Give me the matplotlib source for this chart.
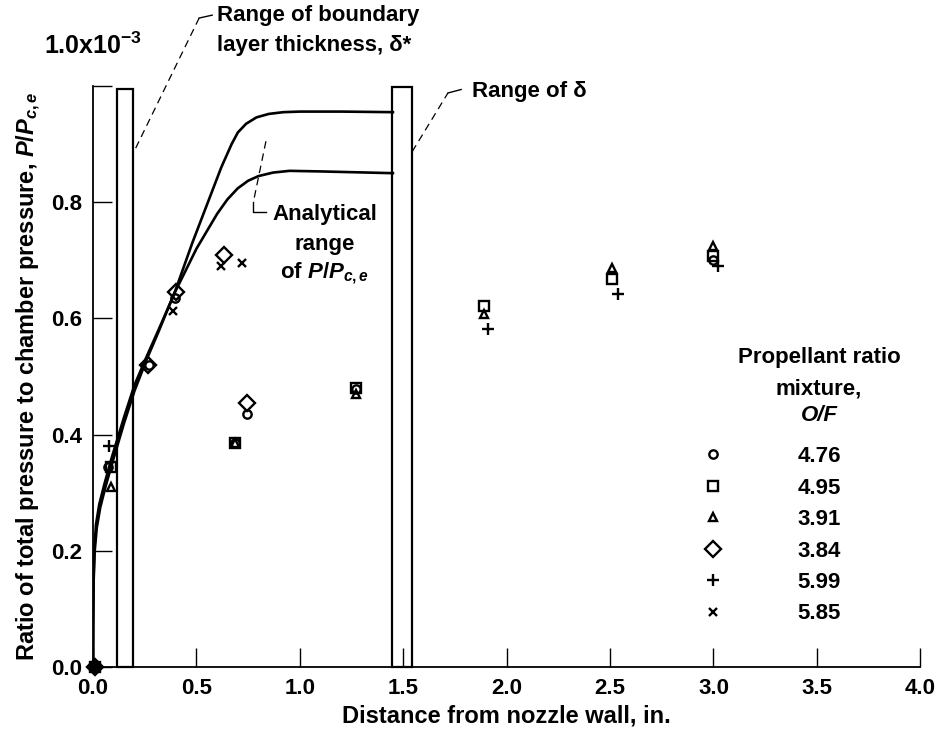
import matplotlib
matplotlib.use("Agg")
import matplotlib.pyplot as plt
from matplotlib.patches import Rectangle

plt.rcParams['font.family'] = ['Liberation Sans', 'DejaVu Sans']
plt.rcParams['font.weight'] = 'bold'
plt.rcParams['axes.labelweight'] = 'bold'
plt.rcParams['mathtext.fontset'] = 'custom'
plt.rcParams['mathtext.rm'] = 'Liberation Sans:bold'
plt.rcParams['mathtext.it'] = 'Liberation Sans:italic:bold'
plt.rcParams['mathtext.bf'] = 'Liberation Sans:bold'

# ---------------- data ----------------
labels = ["4.76", "4.95", "3.91", "3.84", "5.99", "5.85"]

circle_x = [0.01, 0.07, 0.27, 0.395, 0.685, 0.745, 1.27, 3.0]
circle_y = [0.0, 0.345, 0.52, 0.635, 0.385, 0.436, 0.478, 0.70]

square_x = [0.01, 0.085, 0.685, 1.27, 1.89, 2.51, 3.0]
square_y = [0.0, 0.345, 0.385, 0.48, 0.622, 0.667, 0.708]

triangle_x = [0.01, 0.088, 0.685, 1.27, 1.89, 2.51, 3.0]
triangle_y = [0.0, 0.31, 0.385, 0.47, 0.607, 0.686, 0.724]

diamond_x = [0.01, 0.265, 0.40, 0.635, 0.745]
diamond_y = [0.0, 0.52, 0.645, 0.709, 0.455]

plus_x = [0.01, 0.078, 1.91, 2.54, 3.02]
plus_y = [0.0, 0.38, 0.582, 0.642, 0.69]

cross_x = [0.01, 0.385, 0.62, 0.72]
cross_y = [0.0, 0.612, 0.69, 0.695]

upper_x = [0, 0.001, 0.003, 0.008, 0.018, 0.035, 0.06, 0.1, 0.15, 0.2, 0.26, 0.32,
           0.4, 0.48, 0.55, 0.62, 0.67, 0.70, 0.74, 0.79, 0.85, 0.92, 1.0, 1.2, 1.45]
upper_y = [0, 0.08, 0.15, 0.2, 0.24, 0.275, 0.31, 0.36, 0.42, 0.475, 0.53, 0.58,
           0.65, 0.73, 0.795, 0.86, 0.90, 0.92, 0.935, 0.946, 0.952, 0.955, 0.956,
           0.956, 0.955]

lower_x = [0, 0.0008, 0.002, 0.006, 0.014, 0.03, 0.055, 0.09, 0.15, 0.2, 0.26, 0.32,
           0.4, 0.5, 0.6, 0.65, 0.7, 0.75, 0.8, 0.87, 0.95, 1.1, 1.45]
lower_y = [0, 0.08, 0.15, 0.2, 0.245, 0.28, 0.315, 0.36, 0.43, 0.485, 0.535, 0.583,
           0.648, 0.72, 0.78, 0.805, 0.824, 0.837, 0.845, 0.851, 0.854, 0.853, 0.85]

# ranges (x0, x1, top)
dstar_range = (0.118, 0.195, 0.995)
delta_range = (1.446, 1.543, 0.998)

xticks = [0.0, 0.5, 1.0, 1.5, 2.0, 2.5, 3.0, 3.5, 4.0]
xticklabels = ["0.0", "0.5", "1.0", "1.5", "2.0", "2.5", "3.0", "3.5", "4.0"]
yticks = [0.0, 0.2, 0.4, 0.6, 0.8, 1.0]
yticklabels = ["0.0", "0.2", "0.4", "0.6", "0.8", ""]

# ---------------- figure ----------------
FS = 16
fig = plt.figure(figsize=(9.4, 7.34), dpi=100)
ax = fig.add_axes([0.099, 0.0913, 0.880, 0.7915])
ax.set_xlim(0, 4.0)
ax.set_ylim(0, 1.0)

for s in ['top', 'right']:
    ax.spines[s].set_visible(False)
for s in ['left', 'bottom']:
    ax.spines[s].set_linewidth(1.3)

ax.set_xticks(xticks)
ax.set_xticklabels(xticklabels, fontsize=FS)
ax.set_yticks(yticks)
ax.set_yticklabels(yticklabels, fontsize=FS)
ax.tick_params(axis='both', direction='in', length=14, width=1.0)
ax.tick_params(axis='x', pad=8)
ax.tick_params(axis='y', pad=8)

ax.set_xlabel("Distance from nozzle wall, in.", fontsize=FS + 1, labelpad=4)
ax.set_ylabel("Ratio of total pressure to chamber pressure, $P/P_{c,e}$",
              fontsize=FS + 1, labelpad=6)

ax.text(0.0, 1.07, "1.0x10$^{-3}$", fontsize=FS + 2, ha='center', va='center',
        transform=ax.transData, clip_on=False)

# curves
ax.plot(upper_x, upper_y, color='black', lw=1.9, zorder=3)
ax.plot(lower_x, lower_y, color='black', lw=1.9, zorder=3)

# range boxes
for (x0, x1, top) in [dstar_range, delta_range]:
    ax.add_patch(Rectangle((x0, 0), x1 - x0, top, fill=False, ec='black',
                           lw=1.6, zorder=4, clip_on=False))

# data series
mk = dict(color='black', linestyle='none', markerfacecolor='none',
          markeredgewidth=1.7, zorder=5, clip_on=False)
h1, = ax.plot(circle_x, circle_y, marker='o', markersize=6, **mk)
h2, = ax.plot(square_x, square_y, marker='s', markersize=7, **mk)
h3, = ax.plot(triangle_x, triangle_y, marker='^', markersize=6, **mk)
h4, = ax.plot(diamond_x, diamond_y, marker='D', markersize=8, **mk)
h5, = ax.plot(plus_x, plus_y, marker='+', markersize=8, **mk)
h6, = ax.plot(cross_x, cross_y, marker='x', markersize=5.5, **mk)

# annotations
dash = dict(color='black', lw=0.9, linestyle=(0, (6, 4)), clip_on=False)
solid = dict(color='black', lw=1.0, clip_on=False)

ax.plot([0.206, 0.513], [0.893, 1.117], **dash)
ax.plot([0.513, 0.576], [1.117, 1.122], **solid)
ax.text(0.60, 1.122, "Range of boundary", fontsize=FS, ha='left', va='center', clip_on=False)
ax.text(0.60, 1.069, "layer thickness, \u03b4*", fontsize=FS, ha='left', va='center', clip_on=False)

ax.plot([1.543, 1.716], [0.887, 0.988], **dash)
ax.plot([1.716, 1.78], [0.988, 0.994], **solid)
ax.text(1.83, 0.991, "Range of \u03b4", fontsize=FS, ha='left', va='center', clip_on=False)

ax.plot([0.836, 0.775], [0.905, 0.80], **dash)
ax.plot([0.772, 0.772, 0.836], [0.80, 0.784, 0.784], **solid)
ax.text(1.12, 0.779, "Analytical", fontsize=FS, ha='center', va='center')
ax.text(1.12, 0.728, "range", fontsize=FS, ha='center', va='center')
ax.text(1.12, 0.678, "of $P/P_{c,e}$", fontsize=FS, ha='center', va='center')

# legend header
ax.text(3.51, 0.533, "Propellant ratio", fontsize=FS, ha='center', va='center')
ax.text(3.51, 0.479, "mixture,", fontsize=FS, ha='center', va='center')
ax.text(3.51, 0.433, "O/F", fontsize=FS, ha='center', va='center', style='italic')

leg = ax.legend([h1, h2, h3, h4, h5, h6], labels, loc='upper left',
                bbox_to_anchor=(2.944, 0.38), bbox_transform=ax.transData,
                frameon=False, fontsize=FS, handlelength=1.0, handletextpad=3.29,
                labelspacing=0.47, borderpad=0, borderaxespad=0)

fig.savefig("out.png", dpi=100)
